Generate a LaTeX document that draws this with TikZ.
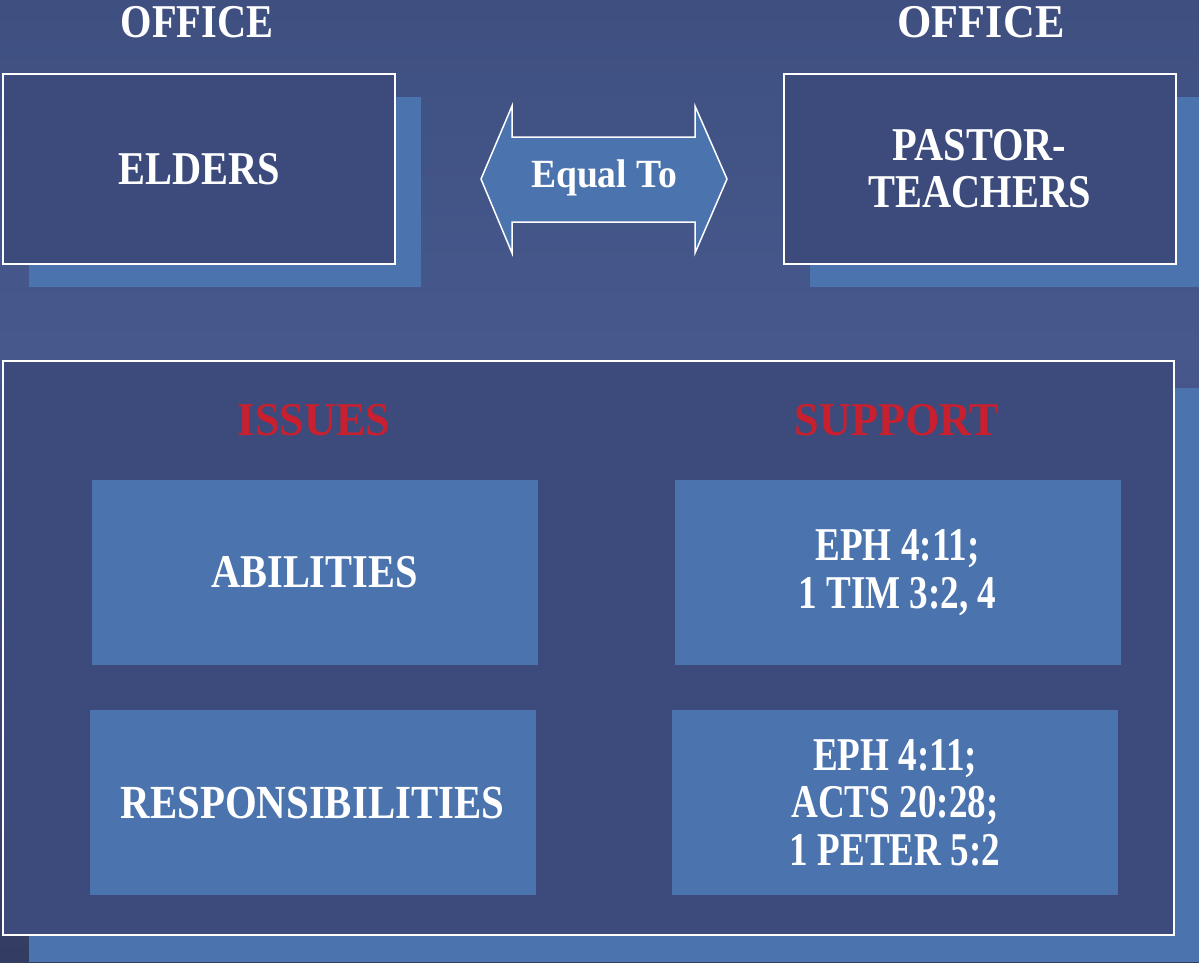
\documentclass[tikz,border=0pt]{standalone}
\usepackage{fontspec}
\setmainfont{Liberation Serif}
\newfontfamily\slidefont[FakeStretch=0.86]{Liberation Serif}
\newfontfamily\widefont[FakeStretch=0.94]{Liberation Serif}
\newfontfamily\narrowfont[FakeStretch=0.79]{Liberation Serif}
\usetikzlibrary{positioning,shadows}
\definecolor{bgtop}{HTML}{3E4F80}
\definecolor{bgmid}{HTML}{47588D}
\definecolor{bgbot}{HTML}{333C62}
\definecolor{boxdark}{HTML}{3C4B7C}
\definecolor{paleblue}{HTML}{4B73AE}
\definecolor{issuered}{HTML}{C8202E}
\tikzset{
  bigtext/.style={text=white,font=\slidefont\bfseries\fontsize{47}{47}\selectfont,align=center},
  officebox/.style={bigtext,draw=white,line width=2pt,fill=boxdark,minimum width=392pt,minimum height=190pt,
    drop shadow={shadow xshift=26pt,shadow yshift=-23pt,fill=paleblue,opacity=1}},
  itembox/.style={bigtext,fill=paleblue,minimum width=446pt,minimum height=185pt},
  refbox/.style={itembox,font=\narrowfont\bfseries\fontsize{47}{47.5}\selectfont},
  heading/.style={bigtext,anchor=base},
}
\begin{document}
\begin{tikzpicture}[x=1pt,y=-1pt]
  \clip (0,0) rectangle (1199,962);
  \shade[top color=bgtop,bottom color=bgmid] (0,0) rectangle (1199,350);
  \shade[top color=bgmid,bottom color=bgbot] (0,349.5) rectangle (1199,962);

  % offices
  \node[heading] (officeL) at (197,37) {OFFICE};
  \node[heading,font=\widefont\bfseries\fontsize{47}{47}\selectfont] (officeR) at (981,37) {OFFICE};
  \node[officebox] (elders) at (199,169) {ELDERS};
  \node[officebox] (pastor) at (979.5,169) {PASTOR-\\TEACHERS};

  % equal to arrow
  \draw[fill=paleblue,draw=white,line width=1.5pt]
    (481,179) -- (512,106) -- (512,137) -- (695,137) -- (695,106) -- (727,179)
    -- (695,253) -- (695,222) -- (512,222) -- (512,253) -- cycle;
  \node[bigtext,font=\widefont\bfseries\fontsize{40}{40}\selectfont] (equal) at (604,178) {Equal To};

  % issues and support
  \node[draw=white,line width=2pt,fill=boxdark,minimum width=1171pt,minimum height=574pt,
    drop shadow={shadow xshift=26pt,shadow yshift=-27pt,fill=paleblue,opacity=1}] (panel) at (588.5,648) {};
  \node[heading,text=issuered,font=\widefont\bfseries\fontsize{47}{47}\selectfont] (issues) at (314,435) {ISSUES};
  \node[heading,text=issuered,font=\widefont\bfseries\fontsize{47}{47}\selectfont] (support) at (897,435) {SUPPORT};
  \node[itembox] (abilities) at (314.5,572.5) {ABILITIES};
  \node[refbox] (refA) at (897.5,572.5) {EPH 4:11;\\1 TIM 3:2, 4};
  \node[itembox,font=\slidefont\bfseries\fontsize{47.5}{47}\selectfont] (resp) at (312.5,802.5) {RESPONSIBILITIES};
  \node[refbox] (refB) at (895,802.5) {EPH 4:11;\\ACTS 20:28;\\1 PETER 5:2};
\end{tikzpicture}
\end{document}
